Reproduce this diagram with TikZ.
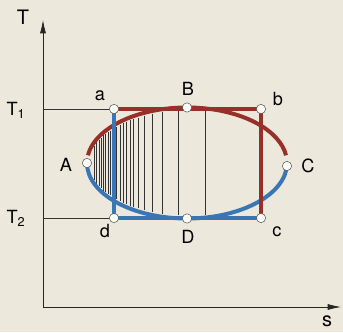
\documentclass[tikz,border=0pt]{standalone}
\usepackage{fontspec}
\setmainfont{TeX Gyre Heros}
\usetikzlibrary{arrows.meta}

\definecolor{paper}{RGB}{236,232,219}
\definecolor{cycRed}{RGB}{150,48,40}
\definecolor{cycBlue}{RGB}{58,118,182}

\begin{document}
\begin{tikzpicture}[
      x=0.03cm, y=0.03cm,
      >={Latex[length=4mm,width=1.8mm]},
      axisLine/.style={semithick, draw=black!85},
      guideLine/.style={thin, draw=black!80},
      hotPath/.style={draw=cycRed, line width=3.4pt},
      coldPath/.style={draw=cycBlue, line width=3.4pt},
      hatchLine/.style={draw=black!80, line width=0.6pt},
      statePt/.style={circle, draw=black!70, thin, fill=white!85!paper,
        minimum size=0.28cm, inner sep=0pt},
      ptLabel/.style={font=\fontsize{15.5}{17}\selectfont, inner sep=0pt},
      axisLabel/.style={font=\fontsize{17}{19}\selectfont, inner sep=0pt}
    ]

      % ---------- paper ----------
      \fill[paper] (0,0) rectangle (343,332);
      \useasboundingbox (0,0) rectangle (343,332);

      % ---------- axes ----------
      \coordinate (O) at (43,25);
      \coordinate (Ttip) at (43,312);
      \coordinate (sTip) at (341,25);
      \draw[axisLine,->] (O) -- (Ttip);
      \draw[axisLine,->] (O) -- (sTip);
      \node[axisLabel] (Tlbl) at (23,315) {T};
      \node[axisLabel] (sLbl) at (327,11) {s};

      % ---------- state points ----------
      \coordinate (ctr) at (187,169);
      \coordinate (a) at (114,223);
      \coordinate (b) at (261,223);
      \coordinate (c) at (261,114);
      \coordinate (d) at (114,114);
      \coordinate (A) at (87,169);
      \coordinate (B) at (187,224.5);
      \coordinate (C) at (287,166);
      \coordinate (D) at (187,113.5);
      \coordinate (T1pt) at (43,223);
      \coordinate (T2pt) at (43,114);

      % ---------- hatching inside the ellipse ----------
      \foreach \hx in {94,96.5,99,101,103.5,105.5,108,110,112,116,120,123,126.5,130,133.5,138,144,152.5,162.5,178,205} {
        \pgfmathsetmacro{\hh}{55.5*sqrt(1-((\hx-187)/100)^2)-3}
        \draw[hatchLine] (\hx,169+\hh) -- (\hx,169-\hh);
      }

      % ---------- ellipse cycle ----------
      \draw[hotPath] (ctr) ++(172:100 and 55.5)
        arc[start angle=172, end angle=8, x radius=100, y radius=55.5];
      \draw[coldPath] (ctr) ++(180:100 and 55.5)
        arc[start angle=180, end angle=360, x radius=100, y radius=55.5];

      % ---------- Carnot rectangle ----------
      \draw[hotPath] (a) -- (b) -- (c);
      \draw[coldPath] (c) -- (d) -- (a);

      % ---------- temperature levels ----------
      \draw[guideLine] (T1pt) -- (a);
      \draw[guideLine] (T2pt) -- (d);
      \node[ptLabel] (T1lbl) at (16,222) {T\textsubscript{1}};
      \node[ptLabel] (T2lbl) at (16,114) {T\textsubscript{2}};

      % ---------- markers ----------
      \foreach \p in {a,b,c,d,A,B,C,D}
        \node[statePt] (m\p) at (\p) {};

      % ---------- point labels ----------
      \node[ptLabel] (la) at (100,236) {a};
      \node[ptLabel] (lB) at (188,243) {B};
      \node[ptLabel] (lb) at (278,233) {b};
      \node[ptLabel] (lA) at (66,167) {A};
      \node[ptLabel] (lC) at (308,166) {C};
      \node[ptLabel] (ld) at (105,101) {d};
      \node[ptLabel] (lD) at (188,95) {D};
      \node[ptLabel] (lc) at (277,100) {c};

    \end{tikzpicture}
\end{document}
